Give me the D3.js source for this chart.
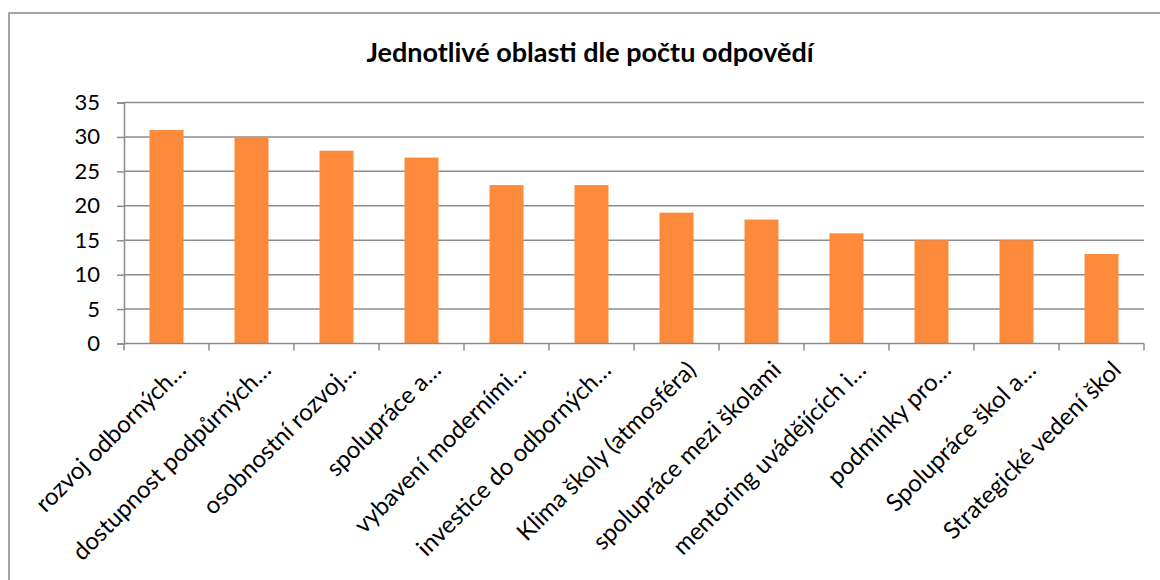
<!DOCTYPE html>
<html><head><meta charset="utf-8">
<script src="https://cdn.jsdelivr.net/npm/d3@7"></script>
<style>body{margin:0;background:#fff}svg{display:block}text{font-family:Lato,"Noto Sans",sans-serif}</style>
</head><body>
<svg id="c" width="1160" height="580"></svg>
<script>
const categories = ["rozvoj odborných…","dostupnost podpůrných…","osobnostní rozvoj…","spolupráce a…","vybavení moderními…","investice do odborných…","Klima školy (atmosféra)","spolupráce mezi školami","mentoring uvádějících i…","podmínky pro…","Spolupráce škol a…","Strategické vedení škol"];
const values = [31,30,28,27,23,23,19,18,16,15,15,13];
const yTicks = [0,5,10,15,20,25,30,35];
const title = "Jednotlivé oblasti dle počtu odpovědí";

const svg = d3.select("#c");
const L = 124, R = 1144, T = 102.5, B = 343.5;
svg.append("rect").attr("x",9).attr("y",13).attr("width",1170).attr("height",600)
  .attr("fill","none").attr("stroke","#878787").attr("stroke-width",1.5);

svg.append("text").attr("x",590).attr("y",62).attr("text-anchor","middle")
  .attr("font-size",27).attr("font-weight","bold").attr("fill","#000").text(title);

const x = d3.scaleBand().domain(categories).range([L,R]).paddingInner(0.6).paddingOuter(0.3);
const y = d3.scaleLinear().domain([0,35]).range([B,T]);

// gridlines
svg.append("g").selectAll("line").data(yTicks.filter(d=>d>0)).join("line")
  .attr("x1",L).attr("x2",R).attr("y1",d=>y(d)).attr("y2",d=>y(d))
  .attr("stroke","#8c8c8c").attr("stroke-width",1.5);

// bars
svg.append("g").selectAll("rect").data(values).join("rect")
  .attr("x",(d,i)=>x(categories[i])).attr("width",x.bandwidth())
  .attr("y",d=>y(d)).attr("height",d=>y(0)-y(d)).attr("fill","#FD8A3B");

// y axis
const ya = svg.append("g").attr("transform",`translate(${L},0)`)
  .call(d3.axisLeft(y).tickValues(yTicks).tickSize(7).tickPadding(17));
ya.select(".domain").attr("stroke","#8c8c8c").attr("stroke-width",1.5);
ya.selectAll(".tick line").attr("stroke","#8c8c8c").attr("stroke-width",1.5);
ya.selectAll(".tick text").attr("font-size",22).attr("fill","#000").attr("font-family","Lato");

// x axis: ticks at category boundaries
const bounds = d3.range(categories.length+1).map(i=>L+i*(R-L)/categories.length);
const xa = svg.append("g");
xa.append("line").attr("x1",L).attr("x2",R).attr("y1",B).attr("y2",B).attr("stroke","#8c8c8c").attr("stroke-width",1.5);
xa.selectAll("line.t").data(bounds).join("line").attr("class","t")
  .attr("x1",d=>d).attr("x2",d=>d).attr("y1",B).attr("y2",B+7).attr("stroke","#8c8c8c").attr("stroke-width",1.5);
xa.selectAll("text").data(categories).join("text")
  .attr("transform",d=>`translate(${x(d)+x.bandwidth()/2+21},${B+28}) rotate(-45)`)
  .attr("text-anchor","end").attr("font-size",24).attr("fill","#000").text(d=>d);
</script>
</body></html>
